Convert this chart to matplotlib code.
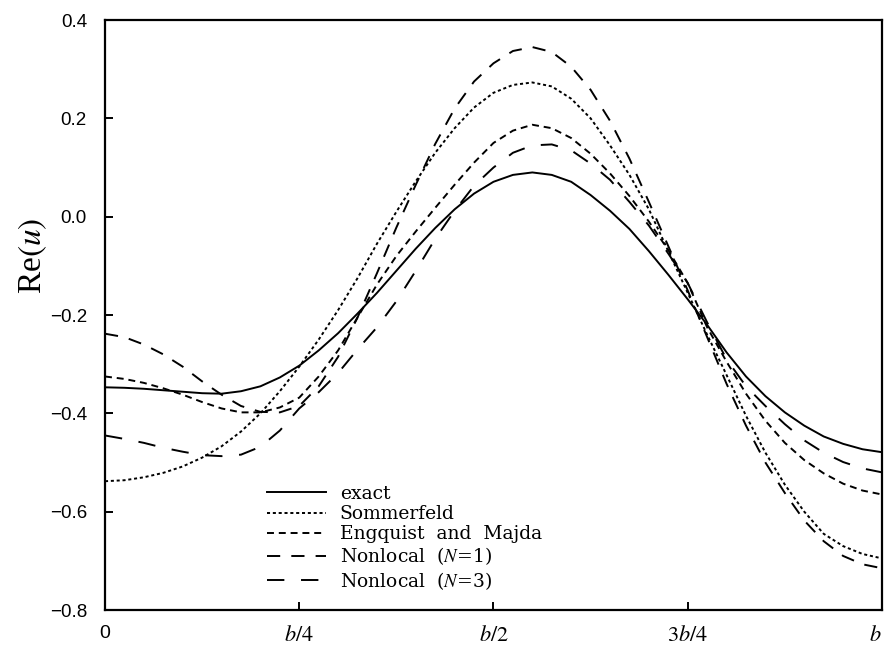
from matplotlib import pyplot as plt
from matplotlib.lines import Line2D

plt.rcParams["lines.scale_dashes"] = False
plt.rcParams["mathtext.fontset"] = "stix"

# positions along the boundary, as a fraction of b
t = [0.0, 0.025, 0.05, 0.075, 0.1, 0.125, 0.15, 0.175, 0.2, 0.225,
     0.25, 0.275, 0.3, 0.325, 0.35, 0.375, 0.4, 0.425, 0.45, 0.475,
     0.5, 0.525, 0.55, 0.575, 0.6, 0.625, 0.65, 0.675, 0.7, 0.725,
     0.75, 0.775, 0.8, 0.825, 0.85, 0.875, 0.9, 0.925, 0.95, 0.975, 1.0]

exact = [-0.347, -0.348, -0.350, -0.353, -0.356, -0.359, -0.360, -0.355, -0.345, -0.327,
         -0.303, -0.272, -0.237, -0.197, -0.155, -0.110, -0.065, -0.023, 0.015, 0.047,
         0.071, 0.085, 0.090, 0.085, 0.071, 0.044, 0.012, -0.025, -0.070, -0.118,
         -0.168, -0.220, -0.276, -0.325, -0.365, -0.398, -0.425, -0.447, -0.462, -0.473, -0.479]
sommerfeld = [-0.538, -0.536, -0.530, -0.521, -0.508, -0.490, -0.467, -0.437, -0.400, -0.355,
              -0.305, -0.250, -0.190, -0.125, -0.055, 0.010, 0.072, 0.130, 0.180, 0.222,
              0.252, 0.268, 0.273, 0.265, 0.240, 0.200, 0.145, 0.085, 0.015, -0.070,
              -0.155, -0.240, -0.322, -0.405, -0.480, -0.545, -0.600, -0.645, -0.670, -0.686, -0.695]
engquist = [-0.325, -0.330, -0.338, -0.349, -0.362, -0.377, -0.390, -0.398, -0.398, -0.388,
            -0.368, -0.325, -0.272, -0.205, -0.138, -0.080, -0.030, 0.018, 0.065, 0.110,
            0.150, 0.175, 0.187, 0.180, 0.160, 0.128, 0.088, 0.042, -0.010, -0.068,
            -0.135, -0.225, -0.295, -0.360, -0.415, -0.460, -0.495, -0.522, -0.543, -0.557, -0.565]
nonlocal1 = [-0.238, -0.245, -0.260, -0.280, -0.305, -0.335, -0.362, -0.385, -0.397, -0.398,
             -0.385, -0.345, -0.285, -0.205, -0.115, -0.022, 0.065, 0.148, 0.220, 0.275,
             0.312, 0.337, 0.345, 0.335, 0.305, 0.258, 0.195, 0.118, 0.030, -0.060,
             -0.150, -0.245, -0.340, -0.425, -0.500, -0.562, -0.618, -0.660, -0.690, -0.707, -0.715]
nonlocal3 = [-0.445, -0.452, -0.460, -0.470, -0.478, -0.485, -0.487, -0.484, -0.468, -0.435,
             -0.390, -0.357, -0.318, -0.270, -0.225, -0.172, -0.110, -0.045, 0.012, 0.063,
             0.100, 0.130, 0.145, 0.147, 0.135, 0.108, 0.075, 0.030, -0.018, -0.075,
             -0.135, -0.215, -0.290, -0.345, -0.385, -0.422, -0.455, -0.480, -0.499, -0.512, -0.520]

labels = ["exact", "Sommerfeld", "Engquist  and  Majda",
          r"Nonlocal  ($N$=1)", r"Nonlocal  ($N$=3)"]
series = [exact, sommerfeld, engquist, nonlocal1, nonlocal3]
styles = ["-", (0, (2.2, 2.0)), (0, (5.0, 3.5)), (0, (9.5, 8.0)), (0, (12.5, 12.0))]

xticks = [0, 0.25, 0.5, 0.75, 1.0]
xticklabels = ["0", r"$b/4$", r"$b/2$", r"$3b/4$", r"$b$"]
yticks = [-0.8, -0.6, -0.4, -0.2, 0.0, 0.2, 0.4]

fig = plt.figure(figsize=(8.84, 6.48), dpi=100)
ax = fig.add_axes([0.1188, 0.0586, 0.8789, 0.9105])

for ys, ls in zip(series, styles):
    ax.plot(t, ys, color="black", linestyle=ls, linewidth=1.4)

ax.set_xlim(0, 1)
ax.set_ylim(-0.8, 0.4)
ax.set_xticks(xticks)
ax.set_xticklabels(xticklabels, fontsize=16)
ax.get_xticklabels()[0].set_fontfamily("Liberation Sans")
ax.get_xticklabels()[0].set_fontsize(14)
ax.get_xticklabels()[-1].set_horizontalalignment("right")
ax.set_yticks(yticks)
ax.set_yticklabels([f"{v:.1f}".replace("-", "\u2212") for v in yticks],
                   family="Liberation Sans", fontsize=13.5)
ax.tick_params(axis="y", direction="in", length=6, width=1.4, pad=13)
ax.tick_params(axis="x", direction="in", length=6, width=1.4, pad=11)
for sp in ax.spines.values():
    sp.set_linewidth(1.6)

ax.set_ylabel(r"Re$(u)$", family="Liberation Serif", fontsize=24)
ax.yaxis.set_label_coords(-0.072, 0.6)

handles = [Line2D([], [], color="black", linestyle=ls, linewidth=1.4) for ls in styles]
ax.legend(handles, labels, loc="upper left", bbox_to_anchor=(0.197, 0.228),
          frameon=False, handlelength=3.1, handletextpad=0.75, labelspacing=0.12,
          borderpad=0, prop={"family": "DejaVu Serif", "size": 13.5})

fig.savefig("out.png", dpi=100)
